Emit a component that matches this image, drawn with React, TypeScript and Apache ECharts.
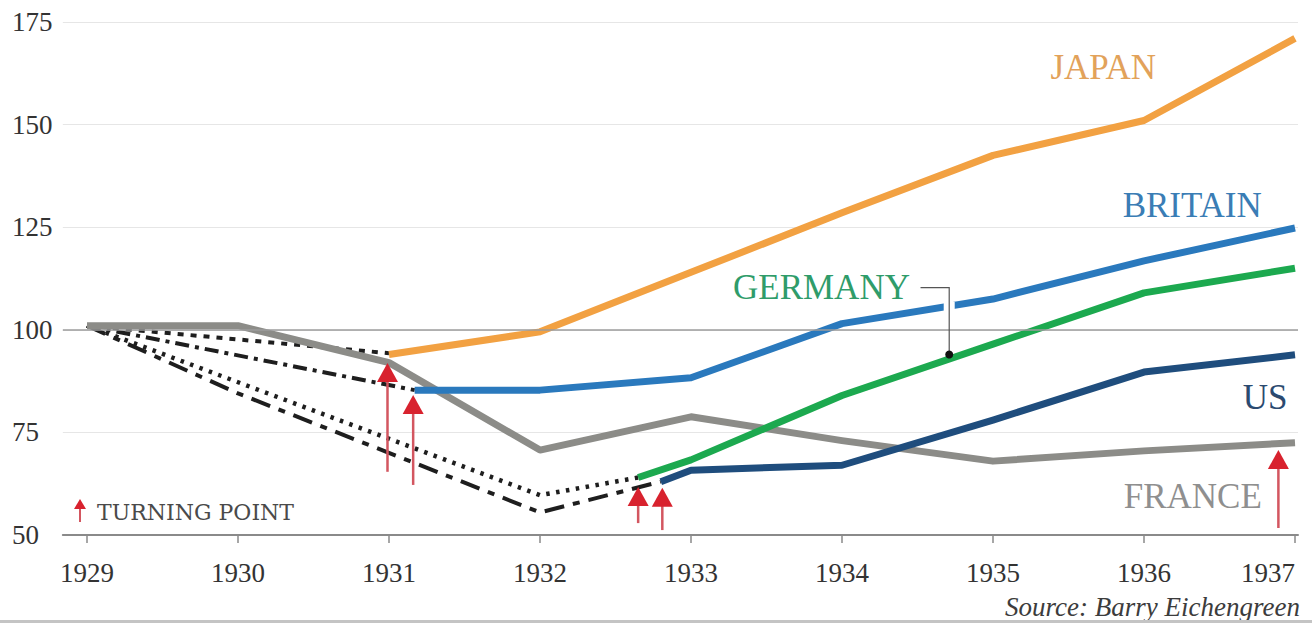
import React, { useEffect, useRef } from "react";
import * as echarts from "echarts";

const years = [1929, 1930, 1931, 1932, 1933, 1934, 1935, 1936, 1937];

const franceX = [1929, 1930, 1931, 1932, 1933, 1934, 1935, 1936, 1937];
const franceY = [101, 101, 92, 70.7, 78.8, 73, 68, 70.5, 72.5];
const japanX = [1931, 1932, 1933, 1934, 1935, 1936, 1937];
const japanY = [94, 99.5, 114, 128.5, 142.5, 151, 171];
const britainX = [1931.17, 1932, 1933, 1934, 1935, 1936, 1937];
const britainY = [85.3, 85.3, 88.3, 101.5, 107.5, 116.8, 124.8];
const germanyX = [1932.65, 1933, 1934, 1935, 1936, 1937];
const germanyY = [64, 68.3, 84, 96.5, 109, 115];
const usX = [1932.8, 1933, 1934, 1935, 1936, 1937];
const usY = [63, 65.8, 67, 78, 89.7, 93.9];

// paths before each country's turning point
const japanPreX = [1929, 1931];
const japanPreY = [101, 94.3];
const britainPreX = [1929, 1931.17];
const britainPreY = [101, 85.3];
const germanyPreX = [1929, 1932, 1932.65];
const germanyPreY = [101, 59.7, 64];
const usPreX = [1929, 1930, 1932, 1932.8];
const usPreY = [101, 84.5, 55.5, 63];

// turning-point arrows: year, head value, tail value
const turnX = [1930.99, 1931.16, 1932.65, 1932.81, 1936.89];
const turnHead = [91.9, 84.1, 61.7, 61.5, 70.7];
const turnTail = [65.4, 62.2, 52.9, 51.2, 51.7];

// Germany leader: x start, x end, top value, dot value, britain gap top/bottom
const leaderX1 = 1934.52;
const leaderX2 = 1934.71;
const leaderTop = 110.3;
const leaderDot = 94;
const gapTop = 106.8;
const gapBottom = 102.6;

const labelNames = ["JAPAN", "BRITAIN", "GERMANY", "US", "FRANCE"];
const labelX = [1936.08, 1936.78, 1934.45, 1936.95, 1936.78];
const labelY = [163.8, 130.4, 110.2, 83.6, 59.3];
const labelColors = ["#e2a25a", "#3a7db5", "#2f9c6a", "#2b4a70", "#8f8f8f"];

const FONT = "Liberation Serif, Times New Roman, DejaVu Serif, serif";

const zip = (xs: number[], ys: number[]) => xs.map((x, i) => [x, ys[i]]);

export default function App() {
  const ref = useRef<HTMLDivElement>(null);
  useEffect(() => {
    if (!ref.current) return;
    const chart = echarts.init(ref.current, undefined, { renderer: "svg" });
    const lineS = (name: string, data: number[][], color: string, z: number, extra: any = {}) => ({
      name,
      type: "line",
      data,
      symbol: "none",
      z,
      lineStyle: { color, width: 7, join: "round" },
      silent: true,
      ...extra,
    });
    const dashS = (name: string, data: number[][], dash: number[], width = 3) => ({
      name,
      type: "line",
      data,
      symbol: "none",
      z: 2,
      silent: true,
      lineStyle: { color: "#1e1e1e", width, type: dash, cap: "butt" },
    });
    chart.setOption({
      animation: false,
      grid: { left: 62.84, right: 13.98, top: 22, bottom: 88 },
      xAxis: {
        type: "value",
        min: 1928.84,
        max: 1937.02,
        splitLine: { show: false },
        axisLine: { lineStyle: { color: "#8a8a8a", width: 2 } },
        axisTick: { show: true, customValues: years, length: 8, lineStyle: { color: "#8a8a8a", width: 1.5 } },
        axisLabel: {
          customValues: years,
          fontFamily: FONT,
          fontSize: 27,
          color: "#333333",
          margin: 24,
          alignMaxLabel: "right",
          formatter: (v: number) => String(Math.round(v)),
        },
      },
      yAxis: {
        type: "value",
        min: 50,
        max: 175,
        interval: 25,
        axisLine: { show: false },
        axisTick: { show: false },
        axisLabel: { align: "left", margin: 50.84, fontFamily: FONT, fontSize: 27, color: "#333333" },
        splitLine: { lineStyle: { color: "#e6e6e6", width: 1.2 } },
      },
      series: [
        dashS("Japan pre", zip(japanPreX, japanPreY), [6, 7], 4),
        dashS("Britain pre", zip(britainPreX, britainPreY), [14, 6, 4, 6], 4),
        dashS("Germany pre", zip(germanyPreX, germanyPreY), [3.5, 6.5], 4.5),
        dashS("US pre", zip(usPreX, usPreY), [20, 9, 7, 9], 4),
        lineS("France", zip(franceX, franceY), "#8c8c88", 3, {
          markLine: {
            silent: true,
            symbol: "none",
            label: { show: false },
            lineStyle: { color: "#9c9c9c", width: 1.5, type: "solid" },
            data: [{ yAxis: 100 }],
          },
        }),
        lineS("Japan", zip(japanX, japanY), "#f2a142", 4),
        lineS("Britain", zip(britainX, britainY), "#2a79bd", 4),
        lineS("Germany", zip(germanyX, germanyY), "#1ca94f", 4),
        lineS("US", zip(usX, usY), "#1f4d7d", 4),
        {
          name: "leader",
          type: "custom",
          z: 5,
          silent: true,
          data: [[leaderX1, leaderX2, leaderTop, leaderDot, gapTop, gapBottom]],
          renderItem: (params: any, api: any) => {
            const a = api.coord([api.value(0), api.value(2)]);
            const b = api.coord([api.value(1), api.value(2)]);
            const d = api.coord([api.value(1), api.value(3)]);
            const g1 = api.coord([api.value(1), api.value(4)]);
            const g2 = api.coord([api.value(1), api.value(5)]);
            return {
              type: "group",
              children: [
                { type: "line", shape: { x1: g1[0], y1: g1[1], x2: g2[0], y2: g2[1] }, style: { stroke: "#ffffff", lineWidth: 11 } },
                { type: "polyline", shape: { points: [a, b, d] }, style: { stroke: "#555", lineWidth: 1.2, fill: null } },
                { type: "circle", shape: { cx: d[0], cy: d[1], r: 4 }, style: { fill: "#111" } },
              ],
            };
          },
        },
        {
          name: "turning points",
          type: "custom",
          z: 6,
          silent: true,
          data: turnX.map((x, i) => [x, turnHead[i], turnTail[i]]),
          renderItem: (params: any, api: any) => {
            const h = api.coord([api.value(0), api.value(1)]);
            const t = api.coord([api.value(0), api.value(2)]);
            return {
              type: "group",
              children: [
                { type: "line", shape: { x1: t[0], y1: t[1], x2: h[0], y2: h[1] + 12 }, style: { stroke: "#d35660", lineWidth: 2.5 } },
                {
                  type: "polygon",
                  shape: { points: [[h[0], h[1]], [h[0] - 10.5, h[1] + 19], [h[0] + 10.5, h[1] + 19]] },
                  style: { fill: "#d8222e" },
                },
              ],
            };
          },
        },
      ],
    });

    const texts: any[] = labelNames.map((n, i) => {
      const p = chart.convertToPixel({ gridIndex: 0 }, [labelX[i], labelY[i]]) as number[];
      return {
        type: "text",
        x: p[0],
        y: p[1],
        silent: true,
        style: {
          text: n,
          fill: labelColors[i],
          fontFamily: FONT,
          fontSize: 35,
          align: "right",
          verticalAlign: "middle",
        },
      };
    });
    chart.setOption({
      graphic: [
        ...texts,
        { type: "line", shape: { x1: 80, y1: 522, x2: 80, y2: 506 }, style: { stroke: "#d35660", lineWidth: 2 } },
        { type: "polygon", shape: { points: [[80, 499], [74, 509], [86, 509]] }, style: { fill: "#d8222e" } },
        {
          type: "text",
          x: 97,
          y: 512,
          style: { text: "TURNING POINT", fill: "#4a4a4a", fontFamily: "DejaVu Serif, serif", fontSize: 22, verticalAlign: "middle" },
        },
        {
          type: "text",
          x: 1300,
          y: 607,
          style: {
            text: "Source: Barry Eichengreen",
            fill: "#3c3c3c",
            fontFamily: FONT,
            fontStyle: "italic",
            fontSize: 27,
            align: "right",
            verticalAlign: "middle",
          },
        },
        { type: "rect", shape: { x: 0, y: 620, width: 1312, height: 3 }, style: { fill: "#c4c4c4" } },
      ],
    });
    return () => chart.dispose();
  }, []);
  return <div ref={ref} style={{ position: "fixed", left: 0, top: 0, width: 1312, height: 623, background: "#fff" }} />;
}
